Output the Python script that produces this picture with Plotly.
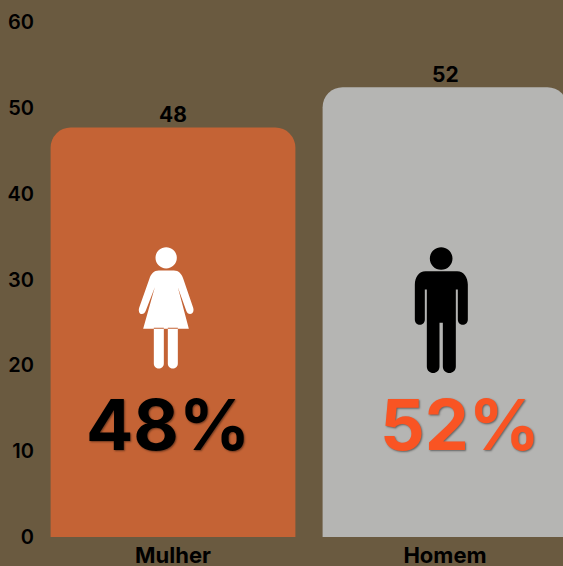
import plotly.graph_objects as go

categories = ["Mulher", "Homem"]
bar_labels = [48, 52]
bar_heights = [47.7, 52.4]
big_labels = ["48%", "52%"]
bar_colors = ["#C46335", "#B5B5B3"]
big_colors = ["#000000", "#F95423"]
big_offsets = [-5, 15]
y_ticks = [0, 10, 20, 30, 40, 50, 60]

BG = "#6A5A40"
FONT = "Inter"
W, H = 563, 566
LEFT, TOP, BASE = 37, 22, 537.5
STEP = 272


def flip(path_tokens, ox, oy):
    """Zoomed icon coordinates (3x) to pixels relative to the anchor, y upward."""
    out = []
    for t in path_tokens:
        if isinstance(t, str):
            out.append(t)
        else:
            out.append(f"{ox + t[0] / 3:.2f},{oy - t[1] / 3:.2f}")
    return " ".join(out)


def circle(cx, cy, r):
    k = 0.5523 * r
    return ["M", (cx - r, cy),
            "C", (cx - r, cy - k), (cx - k, cy - r), (cx, cy - r),
            "C", (cx + k, cy - r), (cx + r, cy - k), (cx + r, cy),
            "C", (cx + r, cy + k), (cx + k, cy + r), (cx, cy + r),
            "C", (cx - k, cy + r), (cx - r, cy + k), (cx - r, cy), "Z"]


def capsule(x0, x1, y0, y1):
    r = (x1 - x0) / 2
    k = 1.33 * r
    return ["M", (x0, y0), "L", (x1, y0), "L", (x1, y1 - r),
            "C", (x1, y1 - r + k), (x0, y1 - r + k), (x0, y1 - r), "Z"]


woman = (circle(137, 70, 32)
         + ["M", (115, 108), "L", (160, 108),
            "C", (175, 108), (183, 118), (188, 132),
            "L", (218, 220),
            "C", (224, 240), (202, 246), (197, 228),
            "L", (172, 158), "L", (205, 283), "L", (68, 283), "L", (103, 158),
            "L", (76, 228),
            "C", (70, 246), (50, 240), (56, 220),
            "L", (87, 132),
            "C", (92, 118), (100, 108), (115, 108), "Z"]
         + capsule(100, 130, 280, 402)
         + capsule(142, 172, 280, 402))

man = (circle(137, 72, 34)
       + ["M", (90, 110), "L", (185, 110),
          "C", (205, 110), (217, 128), (217, 150),
          "L", (217, 255),
          "C", (217, 276), (187, 276), (187, 255),
          "L", (187, 165), "L", (181, 165), "L", (181, 396),
          "C", (181, 422), (142, 422), (142, 396),
          "L", (142, 265), "L", (132, 265), "L", (132, 396),
          "C", (132, 422), (94, 422), (94, 396),
          "L", (94, 165), "L", (88, 165), "L", (88, 255),
          "C", (88, 276), (58, 276), (58, 255),
          "L", (58, 150),
          "C", (58, 128), (70, 110), (90, 110), "Z"])

fig = go.Figure(go.Bar(
    x=categories,
    y=bar_heights,
    width=0.9,
    marker=dict(color=bar_colors, line=dict(width=0)),
    hoverinfo="skip",
))

# Icon anchors sit on each bar's base, offsets are pixels from that anchor
icon_specs = [(woman, "#FFFFFF", 0, 121 - 173.5, 537.5 - 235),
              (man, "#000000", 1, 396 - 445.5, 537.5 - 235)]
shapes = []
for tokens, color, idx, ox, oy in icon_specs:
    shapes.append(dict(
        type="path", layer="above",
        xref="x", yref="y",
        xsizemode="pixel", ysizemode="pixel",
        xanchor=idx, yanchor=0,
        path=flip(tokens, ox, oy),
        fillcolor=color, line=dict(width=0),
    ))

annotations = [
    dict(x=i, y=13.1, xref="x", yref="y", xshift=big_offsets[i],
         text=big_labels[i], showarrow=False, xanchor="center", yanchor="middle",
         font=dict(family=FONT, size=70, color=big_colors[i], weight=700,
                   shadow="1px 1px 2px rgba(0,0,0,0.45)"))
    for i in range(len(categories))
] + [
    dict(x=i, y=bar_heights[i], xref="x", yref="y", yshift=13,
         text=str(bar_labels[i]), showarrow=False, xanchor="center", yanchor="middle",
         font=dict(family=FONT, size=21, color="#000000", weight=700))
    for i in range(len(categories))
]

fig.update_layout(
    width=W, height=H,
    margin=dict(l=LEFT, r=0, t=TOP, b=H - BASE, pad=0, autoexpand=False),
    paper_bgcolor=BG, plot_bgcolor=BG,
    showlegend=False,
    barcornerradius=20,
    shapes=shapes,
    annotations=annotations,
    xaxis=dict(type="category", range=[-0.5, (W - LEFT) / STEP - 0.5],
               showgrid=False, zeroline=False, showline=False, ticks="",
               automargin=False, ticklabelstandoff=3,
               tickfont=dict(family=FONT, size=22, color="#000000", weight=700)),
    yaxis=dict(range=[0, 60], tickvals=y_ticks, showgrid=False, zeroline=False,
               showline=False, ticks="", automargin=False, ticklabelstandoff=2,
               tickfont=dict(family=FONT, size=20, color="#000000", weight=600)),
)

fig.write_html("out.html", config={"displayModeBar": False},
               post_script="document.body.style.margin='0';document.documentElement.style.overflow='hidden';")
